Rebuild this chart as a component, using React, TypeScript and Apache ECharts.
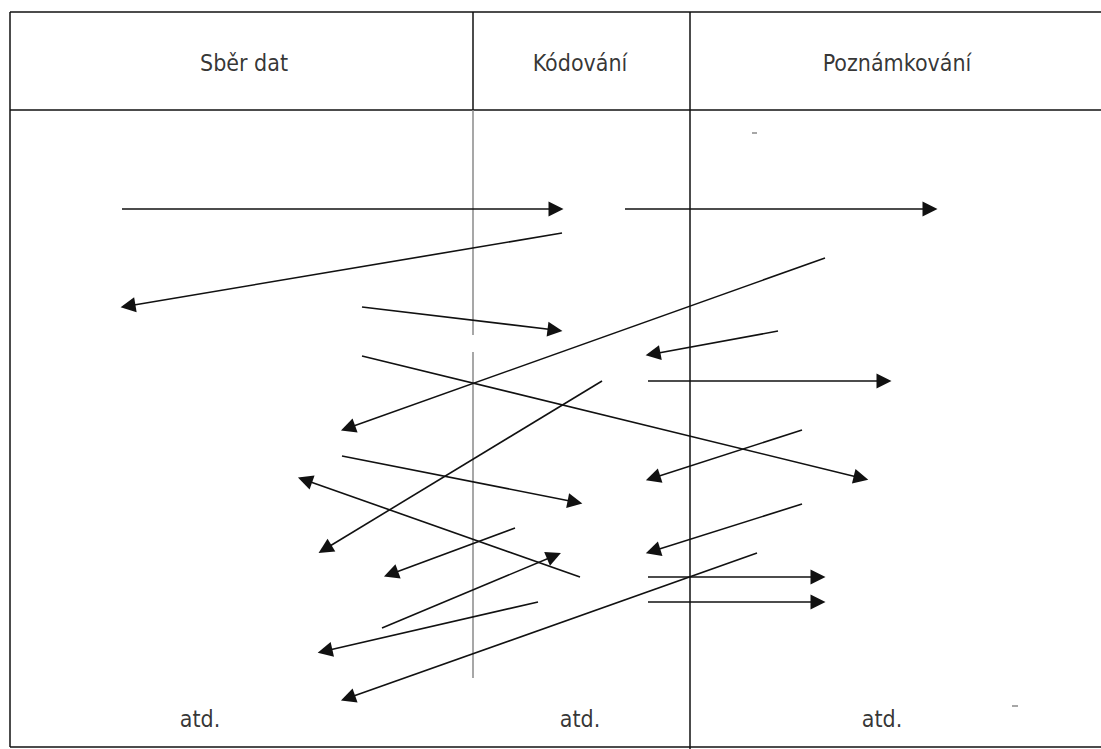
import React, { useEffect, useRef } from "react";
import * as echarts from "echarts";

const W = 1101;
const H = 749;

// column headers and footers
const headers = ["Sběr dat", "Kódování", "Poznámkování"];
const headerX = [244, 580, 897];
const headerY = 63;
const footers = ["atd.", "atd.", "atd."];
const footerX = [200, 580, 882];
const footerY = 719;

// frame lines: [x1, y1, x2, y2]
const frameBlack: number[][] = [
  [10, 12, 1101, 12],
  [10, 12, 10, 747],
  [10, 747, 1101, 747],
  [10, 110, 1101, 110],
  [690, 12, 690, 749],
  [473, 12, 473, 110],
];
const frameGrey: number[][] = [
  [473, 110, 473, 335],
  [473, 352, 473, 678],
  [752, 133, 757, 133],
  [1012, 706, 1018, 706],
];

// arrows: [fromX, fromY, toX, toY] (arrow head at "to")
const arrows: number[][] = [
  [122, 209, 556, 209],
  [625, 209, 930, 209],
  [562, 233, 128, 306],
  [362, 307, 555, 330],
  [825, 258, 348, 428],
  [778, 331, 653, 354],
  [648, 381, 884, 381],
  [362, 356, 861, 478],
  [602, 381, 325, 549],
  [802, 430, 653, 478],
  [342, 456, 575, 502],
  [580, 577, 305, 480],
  [515, 528, 391, 574],
  [382, 628, 554, 556],
  [802, 504, 653, 551],
  [538, 602, 325, 651],
  [757, 553, 348, 698],
  [648, 577, 818, 577],
  [648, 602, 818, 602],
];

const toLines = (arr: number[][]) =>
  arr.map((a) => ({ coords: [[a[0], a[1]], [a[2], a[3]]] }));

export default function App() {
  const ref = useRef<HTMLDivElement>(null);
  useEffect(() => {
    document.body.style.margin = "0";
    if (!ref.current) return;
    const chart = echarts.init(ref.current, null, { renderer: "svg" });
    const textFont = "'DejaVu Sans Condensed', 'DejaVu Sans', sans-serif";
    const label = {
      show: true,
      position: "inside",
      formatter: (p: any) => p.name,
      color: "#000",
      fontSize: 23,
      fontFamily: textFont,
    };
    chart.setOption({
      animation: false,
      backgroundColor: "#ffffff",
      grid: { left: 0, right: 0, top: 0, bottom: 0 },
      xAxis: { type: "value", min: 0, max: W, show: false },
      yAxis: { type: "value", min: 0, max: H, inverse: true, show: false },
      series: [
        {
          type: "lines",
          coordinateSystem: "cartesian2d",
          symbol: ["none", "none"],
          lineStyle: { color: "#111", width: 1.5, opacity: 1 },
          data: toLines(frameBlack),
          silent: true,
        },
        {
          type: "lines",
          coordinateSystem: "cartesian2d",
          symbol: ["none", "none"],
          lineStyle: { color: "#8a8a8a", width: 1.5, opacity: 1 },
          data: toLines(frameGrey),
          silent: true,
        },
        {
          type: "lines",
          coordinateSystem: "cartesian2d",
          symbol: ["none", "path://M0,0 L10,20 L-10,20 Z"],
          symbolSize: [13, 15],
          lineStyle: { color: "#111", width: 1.6, opacity: 1 },
          itemStyle: { color: "#000" },
          data: toLines(arrows),
          silent: true,
        },
        {
          type: "scatter",
          symbolSize: 0,
          silent: true,
          data: headers.map((t, i) => ({ value: [headerX[i], headerY], name: t })),
          label,
        },
        {
          type: "scatter",
          symbolSize: 0,
          silent: true,
          data: footers.map((t, i) => ({ value: [footerX[i], footerY], name: t })),
          label,
        },
      ],
    });
    return () => chart.dispose();
  }, []);
  return <div ref={ref} style={{ width: W, height: H }} />;
}
